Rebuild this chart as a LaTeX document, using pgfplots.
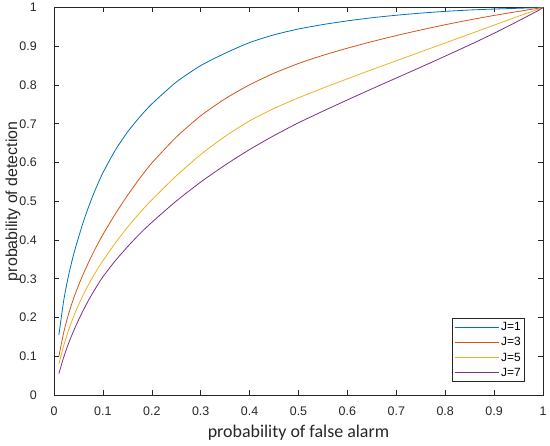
\documentclass[border=0pt]{standalone}
\usepackage{pgfplots}
\pgfplotsset{compat=1.18}
\usepackage{fontspec}
\setmainfont{Liberation Sans}
\newfontfamily\carlito{Carlito}
\definecolor{mblue}{rgb}{0,0.447,0.741}
\definecolor{mred}{rgb}{0.85,0.325,0.098}
\definecolor{myellow}{rgb}{0.929,0.694,0.125}
\definecolor{mpurple}{rgb}{0.494,0.184,0.556}
\definecolor{axgray}{RGB}{38,38,38}
\begin{document}
\begin{tikzpicture}
\path[use as bounding box] (-54bp,-51bp) rectangle (496bp,395bp);
\begin{axis}[
  at={(0,0)}, anchor=south west,
  scale only axis, width=489bp, height=387.5bp,
  xmin=0, xmax=1, ymin=0, ymax=1,
  xtick={0,0.1,...,1.0}, ytick={0,0.1,...,1.0},
  xticklabels={0,0.1,0.2,0.3,0.4,0.5,0.6,0.7,0.8,0.9,1},
  yticklabels={0,0.1,0.2,0.3,0.4,0.5,0.6,0.7,0.8,0.9,1},
  /pgf/number format/assume math mode=true,
  tick align=inside, major tick length=5bp,
  axis line style={axgray, line width=0.6bp},
  every tick/.style={axgray, line width=0.6bp},
  tick label style={font=\fontsize{12.5}{14}\selectfont, text=axgray},
  xticklabel style={anchor=center, yshift=-16.7bp},
  yticklabel style={anchor=east, inner sep=0pt, xshift=-17bp},
  xlabel={\carlito probability of false alarm},
  ylabel={probability of detection},
  xlabel style={at={(axis description cs:0.5,-0.098)}, anchor=center, font=\fontsize{18}{20}\selectfont, text=axgray},
  ylabel style={at={(axis description cs:-0.0838,0.5)}, anchor=center, font=\fontsize{16}{18}\selectfont, text=axgray},
  legend image code/.code={\draw[#1] (0bp,0bp) -- (44bp,0bp);},
  legend style={at={(1,0)}, anchor=south east, xshift=-18bp, yshift=13bp,
    draw=axgray, line width=0.6bp, font=\fontsize{12}{13}\selectfont,
    inner sep=2bp, row sep=1.5bp, cells={anchor=west}},
  every axis plot/.append style={line width=0.8bp, line join=round, smooth, tension=0.4},
]
\addplot[mblue] coordinates {
(0.01,0.155) (0.02,0.245) (0.03,0.31) (0.04,0.362) (0.05,0.406) (0.06,0.447)
(0.07,0.483) (0.08,0.516) (0.09,0.546) (0.1,0.5735) (0.125,0.631) (0.15,0.678)
(0.175,0.717) (0.2,0.751) (0.25,0.8075) (0.3,0.85) (0.35,0.882) (0.4,0.9095)
(0.45,0.9295) (0.5,0.9445) (0.55,0.956) (0.6,0.9655) (0.65,0.9735) (0.7,0.98)
(0.75,0.9855) (0.8,0.99) (0.85,0.9935) (0.9,0.996) (0.95,0.998) (1,1)};
\addlegendentry{J=1}
\addplot[mred] coordinates {
(0.01,0.10) (0.02,0.162) (0.03,0.21) (0.04,0.249) (0.05,0.2825) (0.06,0.3125)
(0.07,0.3405) (0.08,0.3665) (0.09,0.391) (0.1,0.414) (0.125,0.4665) (0.15,0.5145)
(0.175,0.5585) (0.2,0.5985) (0.25,0.6655) (0.3,0.7205) (0.35,0.7645) (0.4,0.8005)
(0.45,0.8305) (0.5,0.8555) (0.55,0.8765) (0.6,0.895) (0.65,0.912) (0.7,0.9275)
(0.75,0.942) (0.8,0.9555) (0.85,0.968) (0.9,0.9795) (0.95,0.99) (1,1)};
\addlegendentry{J=3}
\addplot[myellow] coordinates {
(0.01,0.08) (0.02,0.128) (0.03,0.168) (0.04,0.202) (0.05,0.232) (0.06,0.259)
(0.07,0.2835) (0.08,0.306) (0.09,0.327) (0.1,0.3465) (0.125,0.3915) (0.15,0.4325)
(0.175,0.4695) (0.2,0.5035) (0.25,0.5655) (0.3,0.6205) (0.35,0.6675) (0.4,0.7075)
(0.45,0.7395) (0.5,0.767) (0.55,0.792) (0.6,0.816) (0.65,0.8395) (0.7,0.8625)
(0.75,0.8855) (0.8,0.9085) (0.85,0.9315) (0.9,0.9545) (0.95,0.9775) (1,1)};
\addlegendentry{J=5}
\addplot[mpurple] coordinates {
(0.01,0.055) (0.02,0.098) (0.03,0.134) (0.04,0.165) (0.05,0.193) (0.06,0.219)
(0.07,0.243) (0.08,0.265) (0.09,0.2855) (0.1,0.305) (0.125,0.346) (0.15,0.382)
(0.175,0.4155) (0.2,0.4455) (0.25,0.5005) (0.3,0.5495) (0.35,0.5935) (0.4,0.6335)
(0.45,0.6695) (0.5,0.7025) (0.55,0.7325) (0.6,0.7615) (0.65,0.79) (0.7,0.818)
(0.75,0.846) (0.8,0.8745) (0.85,0.9035) (0.9,0.9335) (0.95,0.9655) (0.975,0.982)
(0.99,0.992) (1,1)};
\addlegendentry{J=7}
\end{axis}
\end{tikzpicture}
\end{document}
